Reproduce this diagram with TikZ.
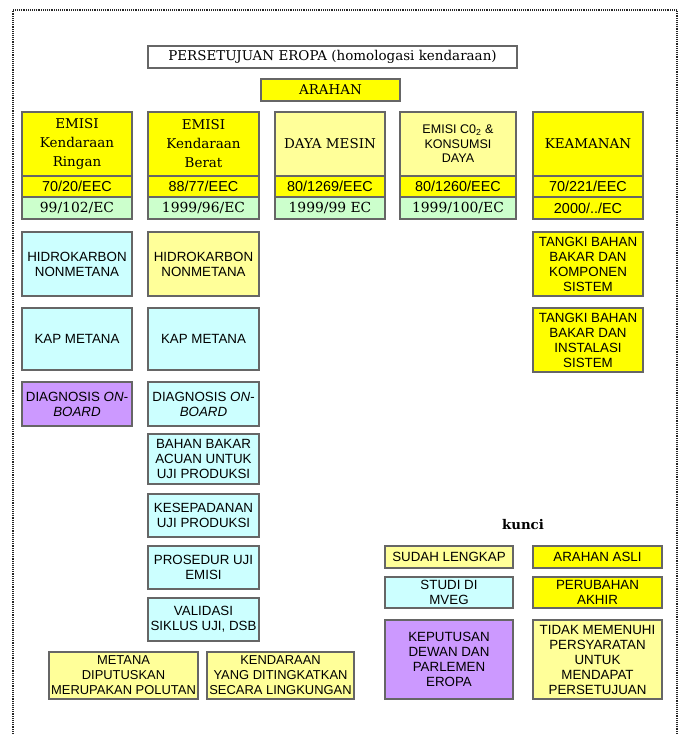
\documentclass[tikz,border=0pt]{standalone}
\usepackage{fontspec}
\newfontfamily\sansf{Liberation Sans}
\newfontfamily\seriff{DejaVu Serif}
\definecolor{yel}{HTML}{FFFF00}
\definecolor{lyel}{HTML}{FFFF99}
\definecolor{cyn}{HTML}{CCFFFF}
\definecolor{grn}{HTML}{CCFFCC}
\definecolor{purp}{HTML}{CC99FF}
\definecolor{edge}{HTML}{666666}
\newcommand{\bx}[7]{\node[#6, minimum width={(#4-#2)*0.75pt}, minimum height={(#5-#3)*0.75pt}] (#1) at ({(#2+#4)/2},{(#3+#5)/2}) {#7};}
\tikzset{
  bbox/.style={draw=edge, line width=0.9pt, inner sep=0pt, align=center, text=black},
  sanst/.style={bbox, font=\sansf\fontsize{10}{11.25}\selectfont},
  sanss/.style={bbox, font=\sansf\fontsize{9.4}{10.9}\selectfont},
  sansm/.style={bbox, font=\sansf\fontsize{9.7}{11.25}\selectfont},
  seriht/.style={bbox, font=\seriff\fontsize{10.1}{14.25}\selectfont},
  codea/.style={bbox, font=\sansf\fontsize{10.8}{12}\selectfont},
  codeb/.style={bbox, font=\seriff\fontsize{10.4}{12}\selectfont},
  border/.style={draw=black!85, line width=0.8pt, dash pattern=on 0.7pt off 0.7pt}
}
\begin{document}
\begin{tikzpicture}[x=0.75pt,y=-0.75pt]
\useasboundingbox (0,0) rectangle (679,734);
\coordinate (bl) at (13,734);
\coordinate (tl) at (13,10);
\coordinate (tr) at (677,10);
\coordinate (br) at (677,734);
\draw[border] (bl) -- (tl) -- (tr) -- (br);

\bx{title}{148}{46}{517}{68}{seriht, fill=white}{PERSETUJUAN EROPA (homologasi kendaraan)}
\bx{arahan}{261}{79}{400}{101}{seriht, fill=yel}{ARAHAN}

% column 1
\bx{h1}{22}{112}{132}{176}{seriht, fill=yel}{EMISI\\Kendaraan\\Ringan}
\bx{a1}{22}{176}{132}{197}{codea, fill=yel}{70/20/EEC}
\bx{b1}{22}{197}{132}{219}{codeb, fill=grn}{99/102/EC}
% column 2
\bx{h2}{148}{112}{259}{176}{seriht, fill=yel}{EMISI\\Kendaraan\\Berat}
\bx{a2}{148}{176}{259}{197}{codea, fill=yel}{88/77/EEC}
\bx{b2}{148}{197}{259}{219}{codeb, fill=grn}{1999/96/EC}
% column 3
\bx{h3}{275}{112}{385}{176}{seriht, fill=lyel}{DAYA MESIN}
\bx{a3}{275}{176}{385}{197}{codea, fill=yel}{80/1269/EEC}
\bx{b3}{275}{197}{385}{219}{codeb, fill=grn}{1999/99 EC}
% column 4
\bx{h4}{400}{112}{516}{176}{sanss, fill=lyel}{EMISI C0\textsubscript{2} \&\\KONSUMSI\\DAYA}
\bx{a4}{400}{176}{516}{197}{codea, fill=yel}{80/1260/EEC}
\bx{b4}{400}{197}{516}{219}{codeb, fill=grn}{1999/100/EC}
% column 5
\bx{h5}{533}{112}{643}{176}{seriht, fill=yel}{KEAMANAN}
\bx{a5}{533}{176}{643}{197}{codea, fill=yel}{70/221/EEC}
\bx{b5}{533}{197}{643}{219}{codea, fill=yel}{2000/../EC}

% lower column 1
\bx{d1}{22}{232}{132}{296}{sanst, fill=cyn}{HIDROKARBON\\NONMETANA}
\bx{e1}{22}{308}{132}{370}{sanst, fill=cyn}{KAP METANA}
\bx{f1}{22}{382}{132}{426}{sanst, fill=purp}{DIAGNOSIS {\itshape ON-}\\{\itshape BOARD}}
% lower column 2
\bx{d2}{148}{232}{259}{296}{sanst, fill=lyel}{HIDROKARBON\\NONMETANA}
\bx{e2}{148}{308}{259}{370}{sanst, fill=cyn}{KAP METANA}
\bx{f2}{148}{382}{259}{426}{sanst, fill=cyn}{DIAGNOSIS {\itshape ON-}\\{\itshape BOARD}}
\bx{g2}{148}{434}{259}{484}{sanst, fill=cyn}{BAHAN BAKAR\\ACUAN UNTUK\\UJI PRODUKSI}
\bx{k2}{148}{494}{259}{537}{sanst, fill=cyn}{KESEPADANAN\\UJI PRODUKSI}
\bx{p2}{148}{546}{259}{589}{sanst, fill=cyn}{PROSEDUR UJI\\EMISI}
\bx{v2}{148}{598}{259}{641}{sanst, fill=cyn}{VALIDASI\\SIKLUS UJI, DSB}
% lower column 5
\bx{t1}{533}{232}{643}{296}{sanst, fill=yel}{TANGKI BAHAN\\BAKAR DAN\\KOMPONEN\\SISTEM}
\bx{t2}{533}{308}{643}{372}{sanst, fill=yel}{TANGKI BAHAN\\BAKAR DAN\\INSTALASI\\SISTEM}

% bottom
\bx{m1}{49}{652}{198}{699}{sansm, fill=lyel}{METANA\\DIPUTUSKAN\\MERUPAKAN POLUTAN}
\bx{m2}{207}{652}{354}{699}{sansm, fill=lyel}{KENDARAAN\\YANG DITINGKATKAN\\SECARA LINGKUNGAN}

% legend
\node[font=\seriff\bfseries\fontsize{10}{12}\selectfont, inner sep=0pt] (kunci) at (523,525) {kunci};
\bx{l1}{385}{546}{513}{568}{sanst, fill=lyel}{SUDAH LENGKAP}
\bx{l2}{533}{546}{662}{568}{sanst, fill=yel}{ARAHAN ASLI}
\bx{l3}{385}{577}{513}{608}{sanst, fill=cyn}{STUDI DI\\MVEG}
\bx{l4}{533}{577}{662}{608}{sanst, fill=yel}{PERUBAHAN\\AKHIR}
\bx{l5}{385}{620}{513}{699}{sanst, fill=purp}{KEPUTUSAN\\DEWAN DAN\\PARLEMEN\\EROPA}
\bx{l6}{533}{620}{662}{699}{sanst, fill=lyel}{TIDAK MEMENUHI\\PERSYARATAN\\UNTUK\\MENDAPAT\\PERSETUJUAN}
\end{tikzpicture}
\end{document}
